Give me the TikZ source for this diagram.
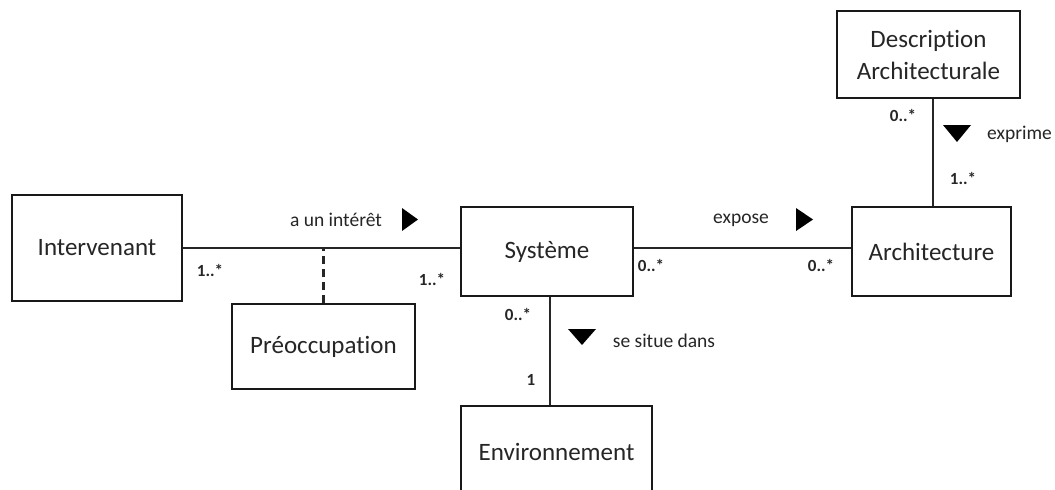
\documentclass[tikz,border=0pt]{standalone}
\usepackage{fontspec}
\setmainfont{Carlito}[RawFeature=-liga]
\begin{document}
\begin{tikzpicture}[x=1pt,y=-1pt,
  box/.style={draw=black!90, line width=2pt, rectangle, inner sep=0pt, align=center,
    text=black!85, font=\fontsize{25}{32}\selectfont},
  assoc/.style={line width=2.4pt, draw=black!85},
  lbl/.style={inner sep=0pt, text=black!85, font=\fontsize{19.5}{23}\selectfont},
  mult/.style={inner sep=0pt, text=black!85, font=\fontsize{17}{20}\selectfont\bfseries},
  tri/.style={fill=black}]
\clip (0,0) rectangle (1055,490);
\fill[white] (0,0) rectangle (1055,490);
% boxes
\node[box, minimum width=170, minimum height=106] (interv) at (97,248) {Intervenant};
\node[box, minimum width=183, minimum height=85] (preocc) at (323.5,346.5) {Préoccupation};
\node[box, minimum width=172, minimum height=89] (systeme) at (547,251.5) {Système};
\node[box, minimum width=159, minimum height=89] (archi) at (931.5,251.5) {Architecture};
\node[box, minimum width=183, minimum height=87] (descr) at (928.5,54.5) {Description\\Architecturale};
\node[box, minimum width=191, minimum height=92] (envir) at (556.5,452) {Environnement};
% connectors
\draw[assoc] (interv.east) -- (interv.east -| systeme.west);
\draw[assoc, dash pattern=on 8pt off 5pt] (preocc.north) -- (preocc.north |- interv.east);
\draw[assoc] ([yshift=3.5pt]systeme.east) -- ([yshift=3.5pt]archi.west);
\draw[assoc] ([xshift=3pt]systeme.south) -- ([xshift=3pt]systeme.south |- envir.north);
\draw[assoc] ([xshift=1.5pt]archi.north) -- ([xshift=1.5pt]archi.north |- descr.south);
% association labels
\node[lbl] (l1) at (336,220) {a un intérêt};
\node[lbl] (l2) at (741,220) {expose};
\node[lbl] (l3) at (664,341) {se situe dans};
\node[lbl] (l4) at (1019.5,134) {exprime};
% direction triangles
\fill[tri] (402,208) -- (418,219.5) -- (402,231) -- cycle;
\fill[tri] (796,208) -- (813,219.5) -- (796,231) -- cycle;
\fill[tri] (568,329) -- (596,329) -- (582,345) -- cycle;
\fill[tri] (943,125) -- (971,125) -- (957,142) -- cycle;
% multiplicities
\node[mult] (m1) at (210,270) {1..*};
\node[mult] (m2) at (432,279) {1..*};
\node[mult] (m3) at (651,265) {0..*};
\node[mult] (m4) at (821,265) {0..*};
\node[mult] (m5) at (518,314) {0..*};
\node[mult] (m6) at (531,380) {1};
\node[mult] (m7) at (903,115) {0..*};
\node[mult] (m8) at (963,178) {1..*};
\end{tikzpicture}
\end{document}
